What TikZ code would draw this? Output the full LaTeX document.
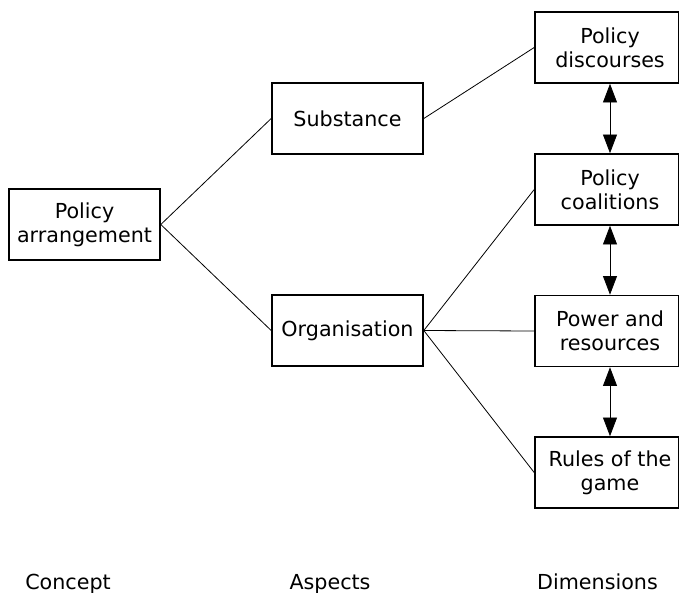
\documentclass[tikz,border=0pt]{standalone}
\usepackage{fontspec}
\setmainfont{DejaVu Sans}
\usetikzlibrary{arrows.meta}

\tikzset{
  box/.style={draw, line width=1.2pt, rectangle, minimum width=151*0.75pt,
    minimum height=71*0.75pt, inner sep=0pt, align=center},
  dimbox/.style={draw, line width=1.2pt, rectangle, minimum width=143.5*0.75pt,
    minimum height=71*0.75pt, inner sep=0pt},
  boxtext/.style={inner sep=0pt, align=center},
  link/.style={line width=0.6pt},
  twoway/.style={line width=0.6pt, {Triangle[length=14pt, width=10.5pt]}-{Triangle[length=14pt, width=10.5pt]}},
  caption/.style={inner sep=0pt, anchor=base}
}

\begin{document}
\begin{tikzpicture}[x=0.75pt, y=-0.75pt, font=\fontsize{15.5}{17.9}\selectfont]
\useasboundingbox (0,0) rectangle (679,593);

% concept and aspects
\node[box] (arr) at (84.5,224.5) {Policy\\arrangement};
\node[box] (sub) at (347.5,118.5) {Substance};
\node[box] (org) at (347.5,330.5) {Organisation};

% dimensions (frames and their labels)
\node[dimbox] (disc) at (606.75,47.5) {};
\node[boxtext] (disct) at (610,47.5) {Policy\\discourses};
\node[dimbox] (coal) at (606.75,189.5) {};
\node[boxtext] (coalt) at (610,189.5) {Policy\\coalitions};
\node[dimbox] (pow) at (606.75,331) {};
\node[boxtext] (powt) at (610,331) {Power and\\resources};
\node[dimbox] (rul) at (606.75,472.5) {};
\node[boxtext] (rult) at (610,472.5) {Rules of the\\game};

% tree connectors
\draw[link] (arr.east) -- (sub.west);
\draw[link] (arr.east) -- (org.west);
\draw[link] (sub.east) -- (disc.west);
\draw[link] (org.east) -- (coal.west);
\draw[link] (org.east) -- (pow.west);
\draw[link] (org.east) -- (rul.west);

% mutual links between dimensions
\draw[twoway] (disct |- disc.south) -- (coalt |- coal.north);
\draw[twoway] (coalt |- coal.south) -- (powt |- pow.north);
\draw[twoway] (powt |- pow.south) -- (rult |- rul.north);

% column captions
\node[caption] (c1) at (68,589.5) {Concept};
\node[caption] (c2) at (330,589.5) {Aspects};
\node[caption] (c3) at (597.5,589.5) {Dimensions};
\end{tikzpicture}
\end{document}
